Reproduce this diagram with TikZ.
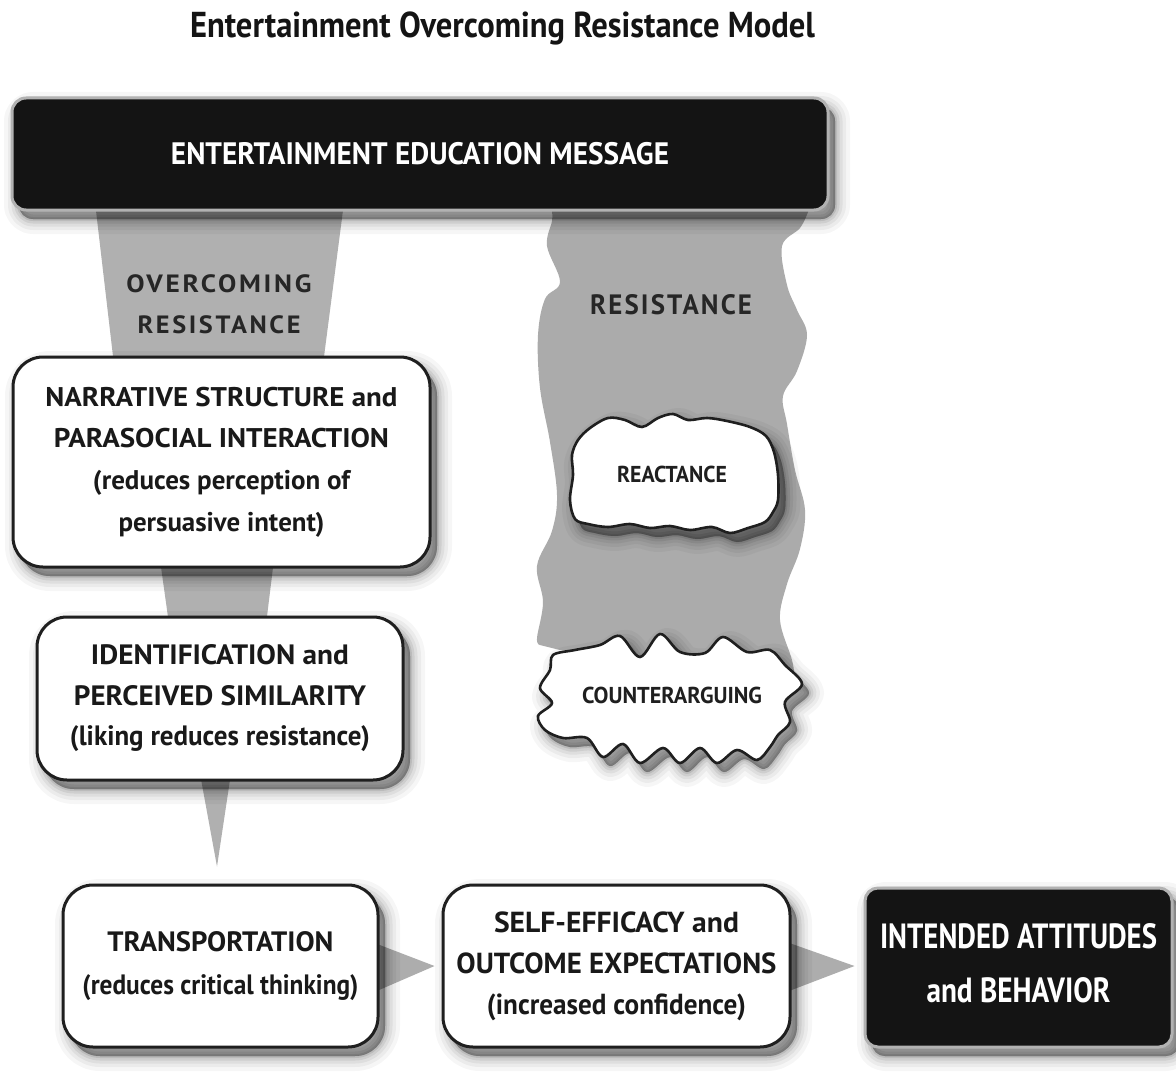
\documentclass[tikz,border=0pt]{standalone}
\usepackage{fontspec}
\usepackage{graphicx}
\newfontfamily\pts{PT Sans}
\usetikzlibrary{calc}
\pgfdeclarelayer{back}
\pgfdeclarelayer{mid}
\pgfsetlayers{back,mid,main}
\newcommand{\fw}[2]{\resizebox{#1pt}{\height}{#2}}
\tikzset{
  shadring/.style 2 args={preaction={draw=black, draw opacity=#1, line width=#2, line join=round, fill=black, fill opacity=#1, transform canvas={xshift=7pt, yshift=-9pt}}},
  softshadow/.style={shadring={0.035}{30pt}, shadring={0.045}{22pt}, shadring={0.055}{15pt}, shadring={0.07}{9pt}, shadring={0.09}{4pt}, shadring={0.1}{0.5pt}},
  whitebox/.style={draw=black!88, line width=3pt, fill=white, rounded corners=30pt, inner sep=0pt, align=center, text=black!90, softshadow},
  blackbox/.style={draw=black!30, line width=3pt, fill=black!92, rounded corners=14pt, inner sep=0pt, align=center, text=white, softshadow},
  graytext/.style={text=black!85, inner sep=0pt, align=center},
  funnelfill/.style={fill=black!31},
  bandfill/.style={fill=black!33},
  blob/.style={draw=black!88, line width=2.6pt, fill=white, softshadow},
  arrowfill/.style={fill=black!32},
}
\begin{document}
\begin{tikzpicture}[x=1pt,y=-1pt]
\begin{pgfonlayer}{back}
  \fill[white] (0,0) rectangle (1176,1073);
\end{pgfonlayer}
\useasboundingbox (0,0) rectangle (1176,1073);

% title
\node[font={\pts\bfseries\fontsize{36}{40}\selectfont}, text=black!92, inner sep=0pt, anchor=base] (title) at (502.5,38) {\fw{625}{Entertainment Overcoming Resistance Model}};

% boxes
\node[blackbox, minimum width=816pt, minimum height=112pt, font={\pts\bfseries\fontsize{31}{36}\selectfont}] (msg) at (420,154) {\fw{498}{ENTERTAINMENT EDUCATION MESSAGE}};

\node[whitebox, minimum width=417pt, minimum height=210pt, font={\pts\bfseries\fontsize{27}{41.7}\selectfont}] (narr) at (221.5,462)
  {\fw{352}{NARRATIVE STRUCTURE and}\\ \fw{335}{PARASOCIAL INTERACTION}\\ \fw{257}{(reduces perception of}\\ \fw{206}{persuasive intent)}};

\node[whitebox, minimum width=366pt, minimum height=163pt, font={\pts\bfseries\fontsize{28}{40.5}\selectfont}] (ident) at (220,698.5)
  {\fw{258}{IDENTIFICATION and}\\ \fw{292}{PERCEIVED SIMILARITY}\\ \fw{300}{(liking reduces resistance)}};

\node[whitebox, minimum width=315pt, minimum height=162pt, font={\pts\bfseries\fontsize{28}{43}\selectfont}] (trans) at (220.5,966)
  {\fw{226}{TRANSPORTATION}\\ \fw{276}{(reduces critical thinking)}};

\node[whitebox, minimum width=347pt, minimum height=162pt, font={\pts\bfseries\fontsize{29}{41}\selectfont}] (self) at (616.5,966)
  {\fw{245}{SELF-EFFICACY and}\\ \fw{320}{OUTCOME EXPECTATIONS}\\ \fw{259}{(increased confidence)}};

\node[blackbox, rounded corners=13pt, minimum width=307pt, minimum height=159pt, font={\pts\bfseries\fontsize{35}{54}\selectfont}] (intd) at (1018.5,967.5)
  {\fw{277}{INTENDED ATTITUDES}\\ \fw{184}{and BEHAVIOR}\rule[-10pt]{0pt}{10pt}};

% labels on gray shapes
\node[graytext, font={\pts\bfseries\fontsize{25}{41}\selectfont\addfontfeature{LetterSpace=10}}] (ovr) at (219,303.75)
  {\fw{185}{OVERCOMING}\\ \fw{163}{RESISTANCE}};
\node[graytext, font={\pts\bfseries\fontsize{28}{32}\selectfont\addfontfeature{LetterSpace=8}}, anchor=base] (res) at (671,314) {\fw{162}{RESISTANCE}};

% blobs
\draw[blob] plot[smooth cycle, tension=0.55] coordinates {
  (572,455) (578,440) (590,428) (608,418) (625,420) (642,427) (658,418) (673,414) (688,420) (707,418) (727,421) (750,427) (766,436) (774,452) (778,475) (778,500) (773,512) (765,522) (748,528) (730,533) (712,527) (690,530) (670,526) (650,528) (630,524) (608,527) (588,524) (575,519) (570,500) (573,475)};
\draw[blob] plot[smooth cycle, tension=0.55] coordinates {
  (553,655) (575,650) (600,645) (620,636) (640,657) (660,634) (680,652) (705,653) (723,637) (747,652) (770,650) (785,665) (802,684) (785,702) (790,722) (778,735) (770,747) (757,760) (737,750) (717,763) (700,748) (680,763) (663,748) (640,763) (623,744) (603,757) (587,738) (563,738) (545,730) (538,716) (552,703) (540,688) (550,670)};
\node[inner sep=0pt, font={\pts\bfseries\fontsize{23}{26}\selectfont}, text=black!88, anchor=base] (react) at (672,482) {\fw{110}{REACTANCE}};
\node[inner sep=0pt, font={\pts\bfseries\fontsize{23}{26}\selectfont}, text=black!88, anchor=base] (counter) at (672,703) {\fw{180}{COUNTERARGUING}};

% gray shapes behind
\begin{pgfonlayer}{mid}
  \fill[bandfill] (552,205) -- (808,205) -- plot[smooth, tension=0.6] coordinates {(808,212) (800,228) (782,246) (787,285) (797,310) (807,335) (797,371) (783,396) (787,424) (795,470) (805,510) (800,549) (787,584) (780,620) (792,660) (795,680)}
    -- (560,650) -- plot[smooth, tension=0.6] coordinates {(540,645) (537,638) (543,602) (537,566) (552,531) (557,495) (550,442) (540,388) (538,335) (545,299) (560,282) (547,246) (552,221) (552,212)} -- cycle;
  \fill[funnelfill] ($(msg.south west)+(85,-5)$) -- ($(msg.south west)+(333,-5)$) -- ($(narr.north west)+(312,5)$) -- ($(narr.north west)+(102,5)$) -- cycle;
  \fill[funnelfill] ($(narr.south west)+(149,-5)$) -- ($(narr.south west)+(262,-5)$) -- ($(ident.north west)+(231,5)$) -- ($(ident.north west)+(133,5)$) -- cycle;
  \fill[funnelfill] ($(ident.south west)+(165,-5)$) -- ($(ident.south west)+(195,-5)$) -- ($(trans.north)+(-3.5,-17)$) -- cycle;
  \fill[arrowfill] ($(trans.east)+(-5,-23)$) -- ($(trans.east)+(55,0)$) -- ($(trans.east)+(-5,26)$) -- cycle;
  \fill[arrowfill] ($(self.east)+(-5,-24)$) -- ($(self.east)+(63,0)$) -- ($(self.east)+(-5,26)$) -- cycle;
\end{pgfonlayer}
\end{tikzpicture}
\end{document}
